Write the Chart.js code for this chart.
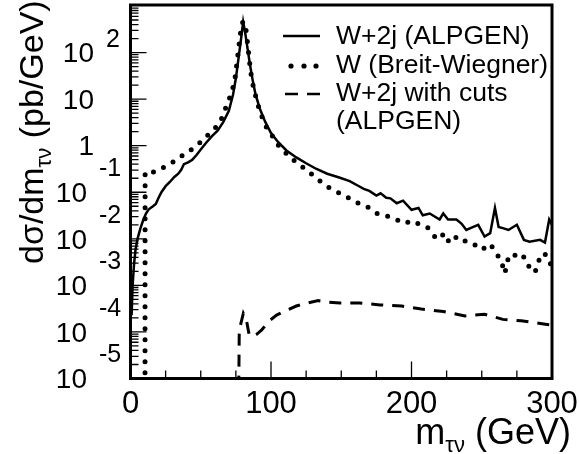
<!doctype html>
<html lang="en">
<head>
<meta charset="UTF-8">
<title>W mass spectrum</title>
<script src="https://cdn.jsdelivr.net/npm/chart.js"></script>
<style>
  body { margin: 0; background: #fff; }
  #box { width: 579px; height: 454px; position: relative; }
</style>
</head>
<body>
<div id="box"><canvas id="chart"></canvas></div>
<script>
// W+2j (ALPGEN), solid
const massW2j = [0.8, 1.5, 2.5, 3.5, 5, 7, 9, 11, 13, 16, 18, 20, 22, 25, 28, 31, 34, 36, 38, 41, 44, 47, 50, 54, 58, 62, 66, 70, 73, 75, 77, 78.5, 80.2, 81.5, 83, 85, 87, 89, 92, 96, 100, 105, 111, 118, 125, 132, 140, 148, 156, 162, 166, 170, 175, 178, 182, 185, 189.5, 194, 200, 205, 208, 213, 220, 222.6, 226, 232, 235.7, 239, 244, 247.5, 252, 256, 259.4, 262, 265, 269, 275, 280, 284, 291.5, 295, 298, 300];
const xsecW2j = [2.3e-4, 1.0e-3, 2.8e-3, 5.6e-3, 0.010, 0.0166, 0.025, 0.035, 0.043, 0.050, 0.056, 0.076, 0.10, 0.135, 0.166, 0.21, 0.25, 0.30, 0.40, 0.44, 0.50, 0.63, 0.83, 1.17, 1.6, 2.1, 3.2, 5.6, 12.6, 28, 80, 178, 457, 282, 141, 56, 25, 12.6, 6.3, 3.2, 1.86, 1.2, 0.79, 0.56, 0.42, 0.32, 0.25, 0.21, 0.174, 0.138, 0.118, 0.107, 0.085, 0.095, 0.076, 0.074, 0.058, 0.066, 0.042, 0.046, 0.032, 0.035, 0.026, 0.035, 0.026, 0.026, 0.021, 0.0155, 0.018, 0.020, 0.0112, 0.0132, 0.046, 0.018, 0.017, 0.0155, 0.020, 0.0095, 0.0087, 0.0095, 0.0083, 0.026, 0.02];

// W (Breit-Wiegner), dotted
const massBW = [10.3, 10.4, 14, 17, 21, 24.5, 31, 37.5, 44, 50.5, 56.5, 62.5, 66, 68.5, 72, 74.4, 76, 77.4, 79, 80.3, 82.2, 83.8, 85.5, 87.4, 90, 92.2, 95.7, 100.5, 104, 110, 116, 122, 128, 134, 140, 147, 154, 161, 168, 174, 178, 185, 191, 195, 200, 205, 212, 217, 221.5, 225, 230, 234.5, 239, 244, 250, 256, 260.5, 264, 266.5, 268, 270, 272.5, 276, 282, 284, 288, 290, 294, 297.4, 300];
const xsecBW = [1e-7, 0.27, 0.26, 0.275, 0.32, 0.35, 0.46, 0.63, 0.85, 1.23, 1.86, 2.8, 4.5, 7.6, 13.5, 28, 69, 158, 398, 468, 309, 115, 39, 18.6, 8.9, 5.4, 2.8, 1.7, 1.12, 0.72, 0.49, 0.355, 0.257, 0.182, 0.132, 0.102, 0.079, 0.060, 0.050, 0.037, 0.032, 0.030, 0.0245, 0.0257, 0.020, 0.0214, 0.017, 0.0107, 0.0132, 0.0083, 0.012, 0.0087, 0.0091, 0.0078, 0.0058, 0.0078, 0.0049, 0.0032, 0.0018, 0.0032, 0.0045, 0.0042, 0.005, 0.0036, 0.0023, 0.0019, 0.0032, 0.005, 0.004, 0.0023];

// W+2j with cuts (ALPGEN), dashed
const massCuts = [76.6, 77.4, 80.3, 82.5, 84.5, 87, 90, 93.4, 98, 104, 110, 118, 126, 133.7, 140, 149, 163, 177.6, 193, 207, 222.6, 238, 252, 265, 278, 294, 300];
const xsecCuts = [1e-7, 1.1e-4, 2.5e-4, 1.8e-4, 8.5e-5, 8e-5, 9e-5, 1.1e-4, 1.66e-4, 2.3e-4, 2.8e-4, 3.6e-4, 4.2e-4, 4.7e-4, 4.4e-4, 4.2e-4, 4.2e-4, 3.8e-4, 3.6e-4, 3.1e-4, 2.75e-4, 2.2e-4, 2.4e-4, 1.86e-4, 1.74e-4, 1.48e-4, 1.4e-4];

// axis ticks / labels
const xTickValues = [0, 100, 200, 300];
const yTickValues = [1e2, 10, 1, 1e-1, 1e-2, 1e-3, 1e-4, 1e-5];
const yTickBase = ['10', '10', '1', '10', '10', '10', '10', '10'];
const yTickExp = ['2', '', '', '-1', '-2', '-3', '-4', '-5'];
const legendLabels = ['W+2j (ALPGEN)', 'W (Breit-Wiegner)', 'W+2j with cuts', '(ALPGEN)'];

const FONT = '"Liberation Sans", Arial, sans-serif';

function pts(xs, ys) {
    return xs.map((x, i) => ({ x: x, y: ys[i] }));
}

const frame = {
    id: 'frame',
    afterDraw(chart) {
        const c = chart.ctx;
        const a = chart.chartArea;
        const xs = chart.scales.x, ys = chart.scales.y;
        c.save();
        c.strokeStyle = '#000';
        c.fillStyle = '#000';

        // ticks, inward
        c.lineWidth = 1.3;
        c.beginPath();
        for (let e = -5; e < 3; e++) {
            for (let m = 1; m < 10; m++) {
                const v = m * Math.pow(10, e);
                const py = ys.getPixelForValue(v);
                const len = m === 1 ? 16 : 8;
                c.moveTo(a.left, py); c.lineTo(a.left + len, py);
            }
        }
        for (let g = 0; g <= 300; g += 25) {
            const px = xs.getPixelForValue(g);
            const len = g % 100 === 0 ? 17 : 8;
            c.moveTo(px, a.bottom); c.lineTo(px, a.bottom - len);
        }
        c.stroke();

        // frame
        c.lineWidth = 3;
        c.strokeRect(a.left, a.top - 1, a.right - a.left, a.bottom - a.top + 1);

        // y labels
        c.textBaseline = 'middle';
        yTickValues.forEach((v, i) => {
            const py = ys.getPixelForValue(v);
            const neg = yTickExp[i].startsWith('-');
            c.font = '28px ' + FONT;
            c.textAlign = 'right';
            c.fillText(yTickBase[i], neg ? 87 : 94, py + 2);
            if (yTickExp[i]) {
                c.font = '25px ' + FONT;
                c.textAlign = 'left';
                c.fillText(yTickExp[i], neg ? 99 : 106, neg ? py - 23 : py - 12);
            }
        });

        // x labels
        c.font = '31px ' + FONT;
        c.textAlign = 'center';
        c.textBaseline = 'alphabetic';
        xTickValues.forEach(v => {
            c.fillText(String(v), xs.getPixelForValue(v), 413);
        });

        // x title
        const big = '36px ' + FONT, sub = '22px ' + FONT;
        c.font = big; const wm = c.measureText('m').width;
        const wg = c.measureText(' (GeV)').width;
        c.font = sub; const wt = c.measureText('\u03c4\u03bd').width;
        let x0 = 571 - wm - wt - wg;
        c.textAlign = 'left';
        c.font = big; c.fillText('m', x0, 444);
        c.font = sub; c.fillText('\u03c4\u03bd', x0 + wm, 452);
        c.font = big; c.fillText(' (GeV)', x0 + wm + wt, 444);

        // y title
        const ybig = '34px ' + FONT;
        c.save();
        c.translate(43, 264);
        c.rotate(-Math.PI / 2);
        c.font = ybig; const wd = c.measureText('d\u03c3/dm').width;
        c.fillText('d\u03c3/dm', 0, 0);
        c.font = sub; const wt2 = c.measureText('\u03c4\u03bd').width;
        c.fillText('\u03c4\u03bd', wd, 8);
        c.font = ybig; c.fillText(' (pb/GeV)', wd + wt2, 0);
        c.restore();

        // legend
        c.font = '26.5px ' + FONT;
        c.textBaseline = 'middle';
        const rows = [37, 66, 94, 122];
        legendLabels.forEach((t, i) => c.fillText(t, 336, rows[i]));
        c.lineWidth = 2.5;
        c.beginPath(); c.moveTo(283, 36); c.lineTo(320, 36); c.stroke();
        [291, 304, 316].forEach(dx => { c.beginPath(); c.arc(dx, 66, 2.6, 0, Math.PI * 2); c.fill(); });
        c.beginPath(); c.moveTo(285, 94); c.lineTo(298, 94); c.moveTo(307, 94); c.lineTo(320, 94); c.stroke();

        c.restore();
    }
};

new Chart(document.getElementById('chart'), {
    type: 'line',
    data: {
        datasets: [{
            label: 'W+2j (ALPGEN)',
            data: pts(massW2j, xsecW2j),
            borderColor: '#000',
            borderWidth: 2.5,
            pointRadius: 0
        }, {
            label: 'W (Breit-Wiegner)',
            data: pts(massBW, xsecBW),
            borderColor: '#000',
            borderWidth: 5,
            borderDash: [0, 11],
            borderCapStyle: 'round',
            pointRadius: 0
        }, {
            label: 'W+2j with cuts (ALPGEN)',
            data: pts(massCuts, xsecCuts),
            borderColor: '#000',
            borderWidth: 3,
            borderDash: [12, 9],
            pointRadius: 0
        }]
    },
    options: {
        responsive: true,
        maintainAspectRatio: false,
        animation: false,
        layout: { padding: { top: 6, right: 27, left: 0, bottom: 0 } },
        plugins: { legend: { display: false }, tooltip: { enabled: false } },
        scales: {
            x: {
                type: 'linear', min: 0, max: 300,
                ticks: { display: false }, grid: { display: false }, border: { display: false },
                afterFit(s) { s.height = 75.5; }
            },
            y: {
                type: 'logarithmic', min: 1e-5, max: 1000,
                ticks: { display: false }, grid: { display: false }, border: { display: false },
                afterFit(s) { s.width = 130.5; }
            }
        }
    },
    plugins: [frame]
});
</script>
</body>
</html>
